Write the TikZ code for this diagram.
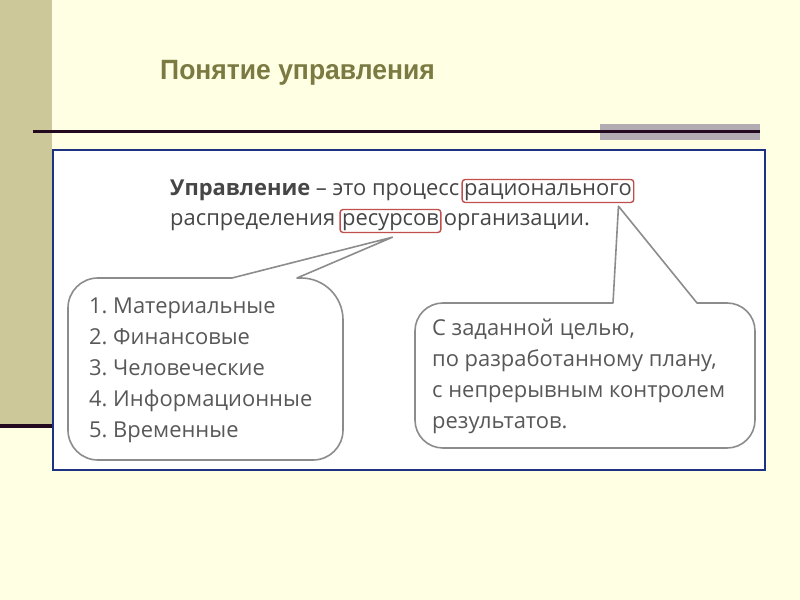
\documentclass[tikz,border=0pt]{standalone}
\usepackage{fontspec}
\setmainfont{Open Sans}
\newfontfamily\titlefont{Liberation Sans}[FakeStretch=0.95]
\usetikzlibrary{positioning,calc}

\definecolor{slidebg}{RGB}{255,255,227}
\definecolor{bandtan}{RGB}{204,200,153}
\definecolor{rulecol}{RGB}{35,10,30}
\definecolor{greybar}{RGB}{178,172,178}
\definecolor{titleolive}{RGB}{122,122,66}
\definecolor{frameblue}{RGB}{30,50,130}
\definecolor{textgrey}{RGB}{70,70,70}
\definecolor{boxred}{RGB}{192,80,77}
\definecolor{bubblegrey}{RGB}{140,140,140}

\begin{document}
\begin{tikzpicture}[
        x=1bp, y=-1bp,
        bodytext/.style={inner sep=0pt, text=textgrey, font=\fontsize{22}{26}\selectfont},
        redbox/.style={bodytext, draw=boxred, line width=1.4bp, rounded corners=3bp,
            inner xsep=2bp, inner ysep=1.5bp, text height=15bp, text depth=5bp},
        listtext/.style={inner sep=0pt, text=textgrey!90, font=\fontsize{22}{26}\selectfont, anchor=base west},
        bubble/.style={draw=bubblegrey, line width=1.6bp, line join=round}
    ]

    % --- Slide background ---
    \useasboundingbox (0,0) rectangle (800,600);
    \fill[slidebg] (0,0) rectangle (800,600);
    \fill[bandtan] (0,0) rectangle (52,425);
    \fill[rulecol] (0,424) rectangle (53,428);
    \fill[greybar] (600,124) rectangle (760,140);
    \fill[rulecol] (33,130.5) rectangle (760,133.5);

    % --- Title ---
    \node[anchor=west, inner sep=0pt, text=titleolive,
        font=\titlefont\bfseries\fontsize{28}{32}\selectfont] (title) at (160,73) {Понятие управления};

    % --- Picture frame ---
    \draw[frameblue, line width=1.5bp, fill=white] (53,150) rectangle (765,470);

    % --- Definition ---
    \node[bodytext, anchor=base west] (defA) at (170,196) {\textbf{Управление} – это процесс};
    \node[redbox, base right=2bp of defA] (rational) {рационального};
    \node[bodytext, anchor=base west] (defB) at (170,226) {распределения};
    \node[redbox, base right=4bp of defB] (resources) {ресурсов};
    \node[bodytext, base right=2bp of resources] (defC) {организации.};

    \coordinate (resTip) at ([xshift=2bp, yshift=-4bp]resources.south);
    \coordinate (ratTip) at ([xshift=-16bp, yshift=-3bp]rational.south east);

    % --- Callout: resources ---
    \draw[bubble] (resTip) -- (297,278) [rounded corners=42] -- (343,278)
        [rounded corners=30] -- (343,460) -- (68,460) -- (68,278)
        [sharp corners] -- (232,278) -- cycle;
    \foreach \kind [count=\i] in {Материальные, Финансовые, Человеческие, Информационные, Временные}
        \node[listtext] (kind\i) at (89,282+31*\i) {\i.~\kind};

    % --- Callout: rational ---
    \draw[bubble] (ratTip) -- (697,303) [rounded corners=28] -- (755,303)
        -- (755,448) -- (415,448) -- (415,303)
        [sharp corners] -- (613,303) -- cycle;
    \foreach \way [count=\i] in {{С заданной целью,}, {по разработанному плану,},
        {с непрерывным контролем}, {результатов.}}
        \node[listtext] (way\i) at (432,304+31*\i) {\way};

\end{tikzpicture}
\end{document}
